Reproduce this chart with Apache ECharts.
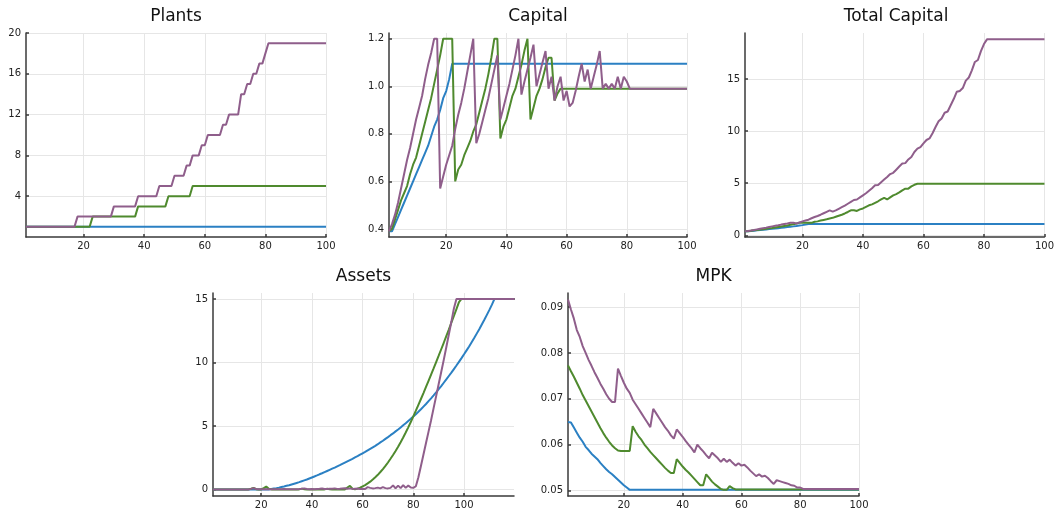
<!DOCTYPE html>
<html>
<head>
<meta charset="utf-8">
<script src="https://cdn.jsdelivr.net/npm/echarts@6/dist/echarts.min.js"></script>
<style>
html,body{margin:0;padding:0;background:#fff;}
#chart{width:1057px;height:510px;}
</style>
</head>
<body>
<div id="chart"></div>
<script>
// ---------- data (index i -> period i+1) ----------
const titles = ["Plants", "Capital", "Total Capital", "Assets", "MPK"];
const seriesColors = ["#2b80c3", "#4f8a2e", "#8f5e8b"];

const plantsBlue = [1,1,1,1,1,1,1,1,1,1, 1,1,1,1,1,1,1,1,1,1, 1,1,1,1,1,1,1,1,1,1, 1,1,1,1,1,1,1,1,1,1, 1,1,1,1,1,1,1,1,1,1,
  1,1,1,1,1,1,1,1,1,1, 1,1,1,1,1,1,1,1,1,1, 1,1,1,1,1,1,1,1,1,1, 1,1,1,1,1,1,1,1,1,1, 1,1,1,1,1,1,1,1,1,1];
const plantsGreen = [1,1,1,1,1,1,1,1,1,1, 1,1,1,1,1,1,1,1,1,1, 1,1,2,2,2,2,2,2,2,2, 2,2,2,2,2,2,2,3,3,3, 3,3,3,3,3,3,3,4,4,4,
  4,4,4,4,4,5,5,5,5,5, 5,5,5,5,5,5,5,5,5,5, 5,5,5,5,5,5,5,5,5,5, 5,5,5,5,5,5,5,5,5,5, 5,5,5,5,5,5,5,5,5,5];
const plantsPurple = [1,1,1,1,1,1,1,1,1,1, 1,1,1,1,1,1,1,2,2,2, 2,2,2,2,2,2,2,2,2,3, 3,3,3,3,3,3,3,4,4,4, 4,4,4,4,5,5,5,5,5,6,
  6,6,6,7,7,8,8,8,9,9, 10,10,10,10,10,11,11,12,12,12, 12,14,14,15,15,16,16,17,17,18, 19,19,19,19,19,19,19,19,19,19, 19,19,19,19,19,19,19,19,19,19];

const capBlue = [0.39,0.39,0.42,0.45,0.48,0.51,0.54,0.57,0.60,0.63, 0.66,0.69,0.72,0.75,0.79,0.83,0.86,0.90,0.95,0.98,
  1.03,1.095,1.095,1.095,1.095,1.095,1.095,1.095,1.095,1.095, 1.095,1.095,1.095,1.095,1.095,1.095,1.095,1.095,1.095,1.095,
  1.095,1.095,1.095,1.095,1.095,1.095,1.095,1.095,1.095,1.095, 1.095,1.095,1.095,1.095,1.095,1.095,1.095,1.095,1.095,1.095,
  1.095,1.095,1.095,1.095,1.095,1.095,1.095,1.095,1.095,1.095, 1.095,1.095,1.095,1.095,1.095,1.095,1.095,1.095,1.095,1.095,
  1.095,1.095,1.095,1.095,1.095,1.095,1.095,1.095,1.095,1.095, 1.095,1.095,1.095,1.095,1.095,1.095,1.095,1.095,1.095,1.095];
const capGreen = [0.39,0.40,0.44,0.48,0.52,0.55,0.58,0.63,0.67,0.70, 0.75,0.80,0.85,0.90,0.95,1.01,1.07,1.13,1.20,1.20,
  1.20,1.20,0.60,0.65,0.67,0.71,0.74,0.77,0.81,0.84, 0.89,0.94,0.99,1.05,1.12,1.20,1.20,0.78,0.83,0.86,
  0.91,0.96,0.99,1.04,1.09,1.15,1.20,0.86,0.91,0.96, 0.99,1.03,1.08,1.12,1.12,0.94,0.97,0.99,0.99,0.99,
  0.99,0.99,0.99,0.99,0.99,0.99,0.99,0.99,0.99,0.99, 0.99,0.99,0.99,0.99,0.99,0.99,0.99,0.99,0.99,0.99,
  0.99,0.99,0.99,0.99,0.99,0.99,0.99,0.99,0.99,0.99, 0.99,0.99,0.99,0.99,0.99,0.99,0.99,0.99,0.99,0.99];
const capPurple = [0.39,0.42,0.46,0.51,0.57,0.63,0.69,0.74,0.80,0.86, 0.91,0.96,1.03,1.09,1.14,1.20,1.20,0.57,0.62,0.67,
  0.71,0.75,0.82,0.88,0.93,0.99,1.06,1.13,1.20,0.76, 0.80,0.85,0.90,0.95,1.01,1.07,1.13,0.86,0.91,0.96,
  1.01,1.07,1.13,1.20,0.965,1.02,1.07,1.12,1.175,1.00, 1.05,1.10,1.148,0.99,1.04,0.94,1.00,1.04,0.94,0.98,
  0.915,0.93,0.98,1.04,1.095,1.02,1.07,0.99,1.04,1.09, 1.148,0.99,1.01,0.99,1.01,0.99,1.04,0.99,1.04,1.02,
  0.99,0.99,0.99,0.99,0.99,0.99,0.99,0.99,0.99,0.99, 0.99,0.99,0.99,0.99,0.99,0.99,0.99,0.99,0.99,0.99];

const totBlue = [0.39,0.39,0.42,0.45,0.48,0.51,0.54,0.57,0.60,0.63, 0.66,0.69,0.72,0.75,0.79,0.83,0.86,0.90,0.95,0.98,
  1.03,1.095,1.095,1.095,1.095,1.095,1.095,1.095,1.095,1.095, 1.095,1.095,1.095,1.095,1.095,1.095,1.095,1.095,1.095,1.095,
  1.095,1.095,1.095,1.095,1.095,1.095,1.095,1.095,1.095,1.095, 1.095,1.095,1.095,1.095,1.095,1.095,1.095,1.095,1.095,1.095,
  1.095,1.095,1.095,1.095,1.095,1.095,1.095,1.095,1.095,1.095, 1.095,1.095,1.095,1.095,1.095,1.095,1.095,1.095,1.095,1.095,
  1.095,1.095,1.095,1.095,1.095,1.095,1.095,1.095,1.095,1.095, 1.095,1.095,1.095,1.095,1.095,1.095,1.095,1.095,1.095,1.095];
const totGreen = [0.39,0.40,0.44,0.48,0.52,0.55,0.58,0.63,0.67,0.70, 0.75,0.80,0.85,0.90,0.95,1.01,1.07,1.13,1.20,1.20,
  1.20,1.20,1.20,1.30,1.34,1.42,1.48,1.54,1.62,1.68, 1.78,1.88,1.98,2.10,2.24,2.40,2.40,2.34,2.49,2.58,
  2.73,2.88,2.97,3.12,3.27,3.45,3.60,3.44,3.64,3.84, 3.96,4.12,4.32,4.48,4.48,4.70,4.85,4.95,4.95,4.95,
  4.95,4.95,4.95,4.95,4.95,4.95,4.95,4.95,4.95,4.95, 4.95,4.95,4.95,4.95,4.95,4.95,4.95,4.95,4.95,4.95,
  4.95,4.95,4.95,4.95,4.95,4.95,4.95,4.95,4.95,4.95, 4.95,4.95,4.95,4.95,4.95,4.95,4.95,4.95,4.95,4.95];
const totPurple = [0.39,0.42,0.46,0.51,0.57,0.63,0.69,0.74,0.80,0.86, 0.91,0.96,1.03,1.09,1.14,1.20,1.20,1.14,1.24,1.34,
  1.42,1.50,1.64,1.76,1.86,1.98,2.12,2.26,2.40,2.28, 2.40,2.55,2.70,2.85,3.03,3.21,3.39,3.44,3.64,3.84,
  4.04,4.28,4.52,4.80,4.83,5.10,5.35,5.60,5.88,6.00, 6.30,6.60,6.89,6.93,7.28,7.52,8.00,8.32,8.46,8.82,
  9.15,9.30,9.80,10.40,10.95,11.22,11.77,11.88,12.48,13.08, 13.78,13.86,14.14,14.85,15.15,15.84,16.64,16.83,17.68,18.36,
  18.81,18.81,18.81,18.81,18.81,18.81,18.81,18.81,18.81,18.81, 18.81,18.81,18.81,18.81,18.81,18.81,18.81,18.81,18.81,18.81];

const assetsBlue = [0,0,0,0,0,0,0,0,0,0, 0,0,0,0,0,0,0,0,0,0,
  0,0,0,0.03,0.07,0.10,0.14,0.19,0.23,0.28, 0.33,0.39,0.45,0.51,0.57,0.64,0.71,0.78,0.86,0.94,
  1.02,1.10,1.19,1.27,1.36,1.45,1.54,1.63,1.72,1.82, 1.91,2.01,2.11,2.21,2.31,2.41,2.52,2.62,2.73,2.84,
  2.95,3.07,3.19,3.31,3.43,3.56,3.70,3.83,3.98,4.12, 4.27,4.41,4.57,4.72,4.88,5.05,5.21,5.39,5.56,5.74,
  5.92,6.11,6.31,6.52,6.73,6.95,7.17,7.40,7.64,7.89, 8.14,8.40,8.66,8.93,9.20,9.48,9.76,10.05,10.34,10.64,
  10.95,11.26,11.59,11.92,12.27,12.62,12.99,13.36,13.75,14.14, 14.55,15,15,15,15,15,15,15,15,15];
const assetsGreen = [0,0,0,0,0,0,0,0,0,0, 0,0,0,0,0,0.05,0.12,0.02,0,0,
  0.10,0.22,0.05,0,0,0,0,0,0,0, 0,0,0,0,0,0.06,0.02,0,0,0,
  0,0,0,0,0,0.05,0.02,0,0,0, 0,0,0,0.15,0.28,0.05,0,0.06,0.13,0.23,
  0.34,0.47,0.61,0.78,0.96,1.15,1.37,1.60,1.85,2.12, 2.41,2.71,3.03,3.36,3.72,4.09,4.48,4.89,5.31,5.75,
  6.20,6.66,7.12,7.59,8.07,8.55,9.04,9.53,10.03,10.53, 11.04,11.55,12.07,12.59,13.13,13.66,14.20,14.75,15,15,
  15,15,15,15,15,15,15,15,15,15, 15,15,15,15,15,15,15,15,15,15];
const assetsPurple = [0,0,0,0,0,0,0,0,0,0, 0,0,0,0,0,0.04,0.10,0.03,0.01,0.02,
  0.01,0.02,0.01,0.02,0.01,0.02,0.01,0.02,0.04,0.02, 0.01,0.02,0.01,0.02,0.03,0.05,0.08,0.03,0.02,0.03,
  0.02,0.04,0.05,0.07,0.03,0.04,0.05,0.06,0.08,0.04, 0.05,0.07,0.09,0.05,0.08,0.04,0.06,0.07,0.04,0.05,
  0.03,0.18,0.12,0.08,0.10,0.14,0.08,0.18,0.10,0.08, 0.12,0.32,0.08,0.30,0.10,0.34,0.12,0.30,0.15,0.12,
  0.25,0.95,1.85,2.75,3.65,4.55,5.45,6.40,7.35,8.30, 9.25,10.20,11.20,12.20,13.20,14.25,15,15,15,15,
  15,15,15,15,15,15,15,15,15,15, 15,15,15,15,15,15,15,15,15,15];

const mpkBlue = [0.0649,0.0648,0.0637,0.0626,0.0615,0.0606,0.0595,0.0588,0.0580,0.0574, 0.0568,0.0560,0.0553,0.0546,0.0540,0.0535,0.0529,0.0523,0.0517,0.0511,
  0.0506,0.0501,0.0501,0.0501,0.0501,0.0501,0.0501,0.0501,0.0501,0.0501, 0.0501,0.0501,0.0501,0.0501,0.0501,0.0501,0.0501,0.0501,0.0501,0.0501,
  0.0501,0.0501,0.0501,0.0501,0.0501,0.0501,0.0501,0.0501,0.0501,0.0501, 0.0501,0.0501,0.0501,0.0501,0.0501,0.0501,0.0501,0.0501,0.0501,0.0501,
  0.0501,0.0501,0.0501,0.0501,0.0501,0.0501,0.0501,0.0501,0.0501,0.0501, 0.0501,0.0501,0.0501,0.0501,0.0501,0.0501,0.0501,0.0501,0.0501,0.0501,
  0.0501,0.0501,0.0501,0.0501,0.0501,0.0501,0.0501,0.0501,0.0501,0.0501, 0.0501,0.0501,0.0501,0.0501,0.0501,0.0501,0.0501,0.0501,0.0501,0.0501];
const mpkGreen = [0.0773,0.0760,0.0748,0.0735,0.0722,0.0708,0.0696,0.0684,0.0672,0.0660, 0.0648,0.0636,0.0625,0.0615,0.0606,0.0598,0.0592,0.0587,0.0586,0.0586,
  0.0586,0.0586,0.0640,0.0628,0.0618,0.0610,0.0600,0.0592,0.0584,0.0577, 0.0570,0.0563,0.0556,0.0549,0.0543,0.0538,0.0538,0.0568,0.0560,0.0552,
  0.0545,0.0539,0.0532,0.0525,0.0518,0.0511,0.0511,0.0535,0.0527,0.0519, 0.0513,0.0508,0.0503,0.0501,0.0501,0.0509,0.0505,0.0502,0.0502,0.0502,
  0.0502,0.0502,0.0502,0.0502,0.0502,0.0502,0.0502,0.0502,0.0502,0.0502, 0.0502,0.0502,0.0502,0.0502,0.0502,0.0502,0.0502,0.0502,0.0502,0.0502,
  0.0502,0.0502,0.0502,0.0502,0.0502,0.0502,0.0502,0.0502,0.0502,0.0502, 0.0502,0.0502,0.0502,0.0502,0.0502,0.0502,0.0502,0.0502,0.0502,0.0502];
const mpkPurple = [0.0917,0.0895,0.0875,0.0850,0.0835,0.0815,0.0800,0.0785,0.0772,0.0758, 0.0746,0.0733,0.0722,0.0710,0.0700,0.0693,0.0693,0.0766,0.0750,0.0735,
  0.0722,0.0713,0.0698,0.0688,0.0678,0.0668,0.0658,0.0648,0.0638,0.0678, 0.0668,0.0658,0.0648,0.0638,0.0630,0.0620,0.0613,0.0633,0.0625,0.0617,
  0.0608,0.0600,0.0592,0.0583,0.0600,0.0592,0.0585,0.0577,0.0570,0.0582, 0.0576,0.0570,0.0562,0.0569,0.0562,0.0567,0.0560,0.0554,0.0559,0.0554,
  0.0556,0.0550,0.0543,0.0537,0.0531,0.0535,0.0530,0.0532,0.0527,0.0520, 0.0514,0.0522,0.0520,0.0518,0.0516,0.0514,0.0511,0.0510,0.0506,0.0506,
  0.0503,0.0503,0.0503,0.0503,0.0503,0.0503,0.0503,0.0503,0.0503,0.0503, 0.0503,0.0503,0.0503,0.0503,0.0503,0.0503,0.0503,0.0503,0.0503,0.0503];

const xTicks = [20, 40, 60, 80, 100];
const yTicksPlants = [4, 8, 12, 16, 20];
const yTicksCapital = [0.4, 0.6, 0.8, 1.0, 1.2];
const yTicksTotal = [0, 5, 10, 15];
const yTicksAssets = [0, 5, 10, 15];
const yTicksMPK = [0.05, 0.06, 0.07, 0.08, 0.09];

// ---------- layout ----------
const panels = [
  {grid:{left:26, top:33, width:300, height:204}, xMin:1, xMax:100, yMin:0, yMax:20, yTicks:yTicksPlants, fmt:v=>String(v), data:[plantsBlue,plantsGreen,plantsPurple]},
  {grid:{left:389, top:33, width:298, height:204}, xMin:1, xMax:100, yMin:0.366, yMax:1.224, yTicks:yTicksCapital, fmt:v=>v.toFixed(1), data:[capBlue,capGreen,capPurple]},
  {grid:{left:745, top:33, width:302, height:204}, xMin:1, xMax:100, yMin:-0.16, yMax:19.42, yTicks:yTicksTotal, fmt:v=>String(v), data:[totBlue,totGreen,totPurple]},
  {grid:{left:213, top:293, width:301, height:204}, xMin:1, xMax:119.7, yMin:-0.52, yMax:15.47, yTicks:yTicksAssets, fmt:v=>String(v), data:[assetsBlue,assetsGreen,assetsPurple]},
  {grid:{left:568, top:293, width:291, height:204}, xMin:1, xMax:100, yMin:0.04876, yMax:0.0931, yTicks:yTicksMPK, fmt:v=>v.toFixed(2), data:[mpkBlue,mpkGreen,mpkPurple]}
];

const FONT = "DejaVu Sans";
const axisLineStyle = {color:"#3a3a3a", width:1.5};
const gridLineStyle = {color:"#e6e6e6", width:1};

const option = {
  animation:false,
  backgroundColor:"#fff",
  title: panels.map((p,i)=>({
    text: titles[i],
    left: p.grid.left + p.grid.width/2,
    top: p.grid.top - 25,
    textAlign: "center",
    padding: 0,
    textStyle:{fontFamily:FONT, fontSize:17, fontWeight:"normal", color:"#111"}
  })),
  grid: panels.map(p=>Object.assign({containLabel:false}, p.grid)),
  xAxis: panels.map((p,i)=>({
    type:"value", gridIndex:i, min:p.xMin, max:p.xMax,
    axisLine:{show:true, onZero:false, lineStyle:axisLineStyle},
    axisTick:{show:true, inside:true, length:3, customValues:xTicks, lineStyle:axisLineStyle},
    axisLabel:{customValues:xTicks, margin:4, fontFamily:FONT, fontSize:10, color:"#222"},
    splitLine:{show:true, lineStyle:gridLineStyle}
  })),
  yAxis: panels.map((p,i)=>({
    type:"value", gridIndex:i, min:p.yMin, max:p.yMax,
    axisLine:{show:true, onZero:false, lineStyle:axisLineStyle},
    axisTick:{show:true, inside:true, length:3, customValues:p.yTicks, lineStyle:axisLineStyle},
    axisLabel:{customValues:p.yTicks, margin:5, fontFamily:FONT, fontSize:10, color:"#222", formatter:p.fmt},
    splitLine:{show:true, lineStyle:gridLineStyle}
  })),
  series: []
};

panels.forEach((p,i)=>{
  p.data.forEach((arr,k)=>{
    option.series.push({
      type:"line", xAxisIndex:i, yAxisIndex:i,
      data: arr.map((v,j)=>[j+1, v]),
      showSymbol:false, symbol:"none",
      lineStyle:{color:seriesColors[k], width:2},
      itemStyle:{color:seriesColors[k]},
      z: 2 + k
    });
  });
});

const chart = echarts.init(document.getElementById("chart"), null, {renderer:"canvas"});
chart.setOption(option);
</script>
</body>
</html>
